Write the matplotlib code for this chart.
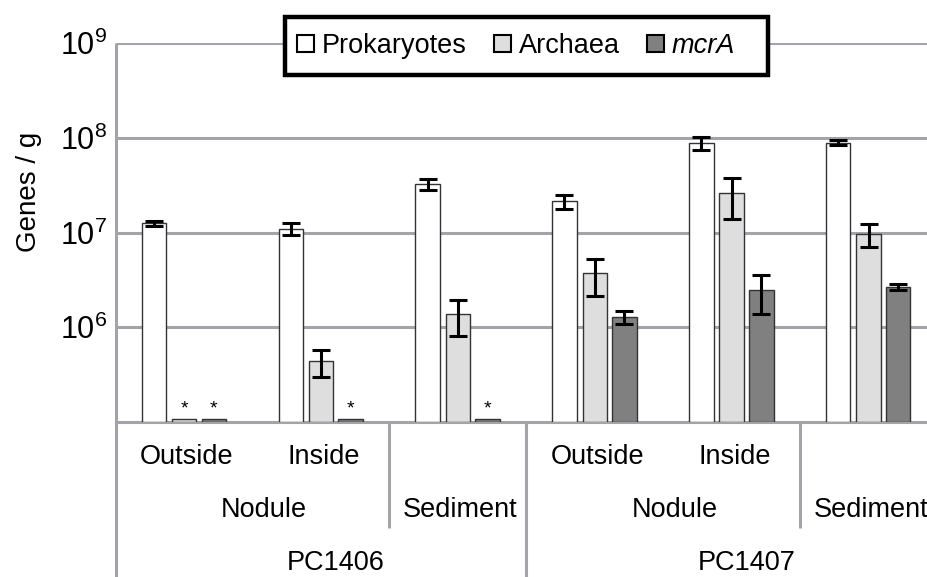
import matplotlib
matplotlib.use('Agg')
import matplotlib.pyplot as plt
import numpy as np
from matplotlib.patches import Rectangle
from matplotlib.transforms import blended_transform_factory

plt.rcParams['font.family'] = ['Liberation Sans', 'DejaVu Sans']
plt.rcParams['mathtext.fontset'] = 'custom'
plt.rcParams['mathtext.rm'] = 'Liberation Sans'
plt.rcParams['mathtext.it'] = 'Liberation Sans:italic'

# ---- data ----
positions = ['Outside', 'Inside', '', 'Outside', 'Inside', '']
habitats = ['Nodule', 'Sediment', 'Nodule', 'Sediment']
habitat_spans = [(0, 1), (2, 2), (3, 4), (5, 5)]
cores = ['PC1406', 'PC1407']
core_spans = [(0, 2), (3, 5)]

series = ['Prokaryotes', 'Archaea', 'mcrA']
prokaryotes = [1.25e7, 1.09e7, 3.22e7, 2.14e7, 8.9e7, 8.9e7]
prokaryotes_err = [8.5e5, 1.6e6, 4.3e6, 3.5e6, 1.4e7, 5.0e6]
archaea = [1.08e5, 4.35e5, 1.37e6, 3.71e6, 2.6e7, 9.6e6]
archaea_err = [0, 1.35e5, 5.6e5, 1.6e6, 1.2e7, 2.6e6]
mcra = [1.08e5, 1.08e5, 1.08e5, 1.27e6, 2.48e6, 2.66e6]
mcra_err = [0, 0, 0, 2.0e5, 1.1e6, 2.2e5]
archaea_bd = [True, False, False, False, False, False]
mcra_bd = [True, True, True, False, False, False]

yticks = [1e6, 1e7, 1e8, 1e9]
ytick_labels = [r'$\mathregular{10^{6}}$', r'$\mathregular{10^{7}}$',
                r'$\mathregular{10^{8}}$', r'$\mathregular{10^{9}}$']

# ---- style ----
colors = ['#ffffff', '#dedede', '#808080']
edge = '#333333'
grid_c = '#a3a4a9'
FS = 19.5

W, H = 927, 577
fig = plt.figure(figsize=(W / 100, H / 100), dpi=100)
ax_left, ax_right = 115.6, 937.0
ax_top, ax_bot = 43.3, 421.7
ax = fig.add_axes([ax_left / W, 1 - ax_bot / H, (ax_right - ax_left) / W, (ax_bot - ax_top) / H])

ax.set_yscale('log')
ax.set_ylim(1e5, 1e9)
ax.set_xlim(-0.5, 5.5)

x = np.arange(len(prokaryotes))
offs = [-0.221, 0.0, 0.217]
bw = 0.178
vals = [prokaryotes, archaea, mcra]
errs = [prokaryotes_err, archaea_err, mcra_err]
bds = [None, archaea_bd, mcra_bd]
base = 1e5
for k in range(3):
    v = np.array(vals[k])
    ax.bar(x + offs[k], v - base, bottom=base, width=bw, color=colors[k],
           edgecolor=edge, linewidth=1.0, zorder=3)
    e = np.array(errs[k])
    m = e > 0
    ax.errorbar((x + offs[k])[m], v[m], yerr=e[m], fmt='none', ecolor='black',
                elinewidth=2.2, capsize=6.5, capthick=2.2, zorder=4)
    if bds[k] is not None:
        for i, f in enumerate(bds[k]):
            if f:
                ax.annotate('*', (x[i] + offs[k], v[i]), xytext=(0, 0.5),
                            textcoords='offset points', ha='center', va='bottom',
                            fontsize=14, zorder=5)

ax.set_yticks(yticks)
ax.set_yticklabels(ytick_labels)
ax.minorticks_off()
ax.tick_params(axis='y', length=0, pad=6, labelsize=22)
ax.tick_params(axis='x', length=0, labelbottom=False)
ax.set_xticks([])
ax.grid(axis='y', color=grid_c, linewidth=2.2)
ax.set_axisbelow(True)
for s in ['top', 'right', 'left']:
    ax.spines[s].set_visible(False)
ax.spines['bottom'].set_color(grid_c)
ax.spines['bottom'].set_linewidth(2.2)

# category axis (hierarchical)
tr = blended_transform_factory(ax.transData, ax.transAxes)
def ay(py):
    return (ax_bot - py) / (ax_bot - ax_top)

line_kw = dict(transform=tr, color=grid_c, lw=2.2, clip_on=False, solid_capstyle='butt')
ax.plot([-0.5, -0.5], [1.0, ay(H + 5)], **line_kw)
ax.plot([1.5, 1.5], [0, ay(528)], **line_kw)
ax.plot([4.5, 4.5], [0, ay(528)], **line_kw)
ax.plot([2.5, 2.5], [0, ay(H + 5)], **line_kw)

for i, p in enumerate(positions):
    if p:
        ax.text(i + 0.02, ay(457), p, transform=tr, ha='center', va='center', fontsize=FS)
for name, (s, e) in zip(habitats, habitat_spans):
    c = (s + e) / 2 + (0.085 if e > s else 0.018)
    ax.text(c, ay(510), name, transform=tr, ha='center', va='center', fontsize=FS)
for name, (s, e) in zip(cores, core_spans):
    c = (s + e) / 2 + 0.11
    ax.text(c, ay(563.5), name, transform=tr, ha='center', va='center', fontsize=FS)

fig.text(29 / W, 1 - 192 / H, 'Genes / g', rotation=90, ha='center', va='center', fontsize=20)

# legend with a manually drawn frame
lx0, lx1, ly0, ly1 = 285, 768, 17, 75
frame = Rectangle((lx0 / W, 1 - ly1 / H), (lx1 - lx0) / W, (ly1 - ly0) / H,
                  transform=fig.transFigure, facecolor='white', edgecolor='black',
                  linewidth=3.2, zorder=4)
fig.patches.append(frame)
handles = [Rectangle((0, 0), 1, 1, facecolor=colors[k], edgecolor='black', linewidth=1.5) for k in range(3)]
leg = fig.legend(handles, series, loc='center left', bbox_to_anchor=(297 / W, 1 - 46 / H),
                 ncol=3, frameon=False, fontsize=FS,
                 handlelength=0.62, handleheight=0.62, handletextpad=0.3,
                 columnspacing=1.0, borderpad=0.0, borderaxespad=0)
leg.set_zorder(6)
leg.get_texts()[2].set_fontstyle('italic')

fig.savefig('out.png', dpi=100)
